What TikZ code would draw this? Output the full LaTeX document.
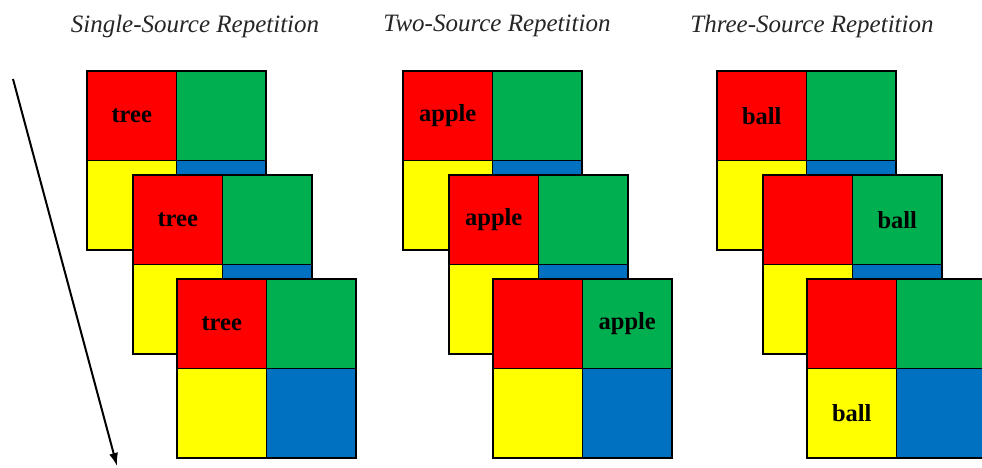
\documentclass[tikz,border=0pt]{standalone}
\usepackage{fontspec}
\setmainfont{Liberation Serif}
\usetikzlibrary{arrows.meta}
\definecolor{cred}{HTML}{FF0000}
\definecolor{cgreen}{HTML}{00B050}
\definecolor{cyellow}{HTML}{FFFF00}
\definecolor{cblue}{HTML}{0070C0}
\newcommand\celltext[1]{\raisebox{-3pt}{#1}}
\tikzset{
  cell/.style={draw=black, line width=1.3pt, minimum size=89.5pt, inner sep=0pt,
    outer sep=0pt, anchor=north west, font=\fontsize{24.5}{26}\selectfont\bfseries},
  title/.style={font=\fontsize{25}{28}\selectfont\itshape, text=black!85},
  pics/quad/.style n args={4}{code={
    \node[cell, fill=cred]    (-r) at (0,0)       {\celltext{#1}};
    \node[cell, fill=cgreen]  (-g) at (89.5,0)    {\celltext{#2}};
    \node[cell, fill=cyellow] (-y) at (0,89.5)    {\celltext{#3}};
    \node[cell, fill=cblue]   (-b) at (89.5,89.5) {\celltext{#4}};
  }}
}
\begin{document}
\begin{tikzpicture}[x=1pt, y=-1pt]
\useasboundingbox (0,0) rectangle (982,468);
\fill[white] (0,0) rectangle (982,468);

% column titles
\node[title] (h1) at (195,26) {Single-Source Repetition};
\node[title] (h2) at (497,26) {Two-Source Repetition};
\node[title] (h3) at (812,26) {Three-Source Repetition};

% single source
\pic (a1) at (87,71)  {quad={tree}{}{}{}};
\pic (a2) at (133,175) {quad={tree}{}{}{}};
\pic (a3) at (177,279) {quad={tree}{}{}{}};

% two sources
\pic (b1) at (403,71)  {quad={apple}{}{}{}};
\pic (b2) at (449,175) {quad={apple}{}{}{}};
\pic (b3) at (493,279) {quad={}{apple}{}{}};

% three sources
\pic (c1) at (717,71)  {quad={ball}{}{}{}};
\pic (c2) at (763,175) {quad={}{ball}{}{}};
\pic (c3) at (807,279) {quad={}{}{ball}{}};

% time arrow
\coordinate (t0) at (13,79);
\coordinate (t1) at (117,466);
\draw[line width=2pt, -{Latex[length=13pt,width=9pt]}] (t0) -- (t1);
\end{tikzpicture}
\end{document}
